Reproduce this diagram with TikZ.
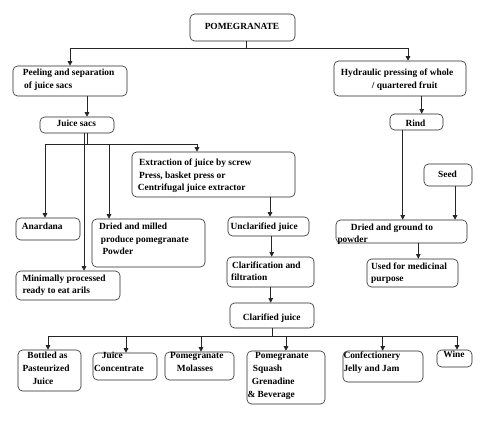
\documentclass[tikz,border=0pt]{standalone}
\usepackage{fontspec}
\setmainfont{Liberation Serif}
\usetikzlibrary{arrows.meta}
\newcommand\fnt{\fontsize{9.4}{12.4}\selectfont\bfseries}
\newcommand\fntb{\fontsize{9.4}{13}\selectfont\bfseries}
\newcommand\mkbox[5]{\node[bx, minimum width={#4pt-#2pt}, minimum height={#5pt-#3pt}] (#1) at ({(#2+#4)/2},{(#3+#5)/2}) {};}
\begin{document}
\begin{tikzpicture}[x=1pt,y=-1pt,
 bx/.style={draw=black!85, line width=0.6pt, rounded corners=4.5pt, inner sep=0pt},
 txt/.style={font=\fnt, inner sep=0pt, align=left, anchor=north west},
 txtb/.style={txt, font=\fntb},
 ln/.style={draw=black!85, line width=0.6pt},
 arr/.style={ln, -{Triangle[length=4.5pt,width=4.5pt]}}]
\useasboundingbox (0,0) rectangle (481,422);
\fill[white] (0,0) rectangle (481,422);
% boxes
\mkbox{pom}{190}{14}{295}{41}
\mkbox{peel}{13}{66}{127}{96}
\mkbox{hyd}{334}{61}{466}{96}
\mkbox{sacs}{40}{117}{114}{133}
\mkbox{rind}{390}{114}{443}{130}
\mkbox{seed}{424}{164}{472}{186}
\mkbox{extr}{132}{152}{295}{197}
\mkbox{anar}{16}{218}{80}{240}
\mkbox{milled}{92}{219}{205}{267}
\mkbox{uncl}{228}{217}{309}{236}
\mkbox{clar}{227}{257}{314}{287}
\mkbox{clard}{230}{303}{314}{328}
\mkbox{ground}{336}{220}{467}{243}
\mkbox{med}{367}{259}{458}{287}
\mkbox{minim}{16}{271}{120}{300}
\mkbox{bottled}{18}{350}{81}{391}
\mkbox{conc}{93}{353}{157}{380}
\mkbox{mol}{165}{352}{234}{380}
\mkbox{squash}{247}{351}{325}{404}
\mkbox{conf}{343}{351}{423}{382}
\mkbox{wine}{437}{350}{472}{367}
% texts
\node[txt, anchor=north] (tpom) at (242,22.7) {POMEGRANATE};
\node[txt] (tpeel) at (22.7,69) {Peeling and separation\\\hspace*{1.3pt}of juice sacs};
\node[txt] (thyd) at (340.7,69) {Hydraulic pressing of whole\\\hspace*{31pt}/ quartered fruit};
\node[txt, anchor=north] (tsacs) at (76.3,120) {Juice sacs};
\node[txt, anchor=north] (trind) at (415.5,120) {Rind};
\node[txt, anchor=north] (tseed) at (447.5,171) {Seed};
\node[txt] (textr) at (137.7,159) {\hspace*{1.3pt}Extraction of juice by screw\\\hspace*{1.3pt}Press, basket press or\\Centrifugal juice extractor};
\node[txt] (tanar) at (21.7,223) {Anardana};
\node[txt] (tmilled) at (99,223) {Dried and milled\\\hspace*{1.7pt}produce pomegranate\\\hspace*{3.3pt}Powder};
\node[txt] (tuncl) at (230.5,222.7) {Unclarified juice};
\node[txt] (tclar) at (231,261.7) {\hspace*{0.8pt}Clarification and\\filtration};
\node[txt, anchor=north] (tclard) at (271.7,313.3) {Clarified juice};
\node[txt] (tground) at (337.3,223.3) {\hspace*{13.4pt}Dried and ground to\\powder};
\node[txt] (tmed) at (371,262.3) {Used for medicinal\\purpose};
\node[txt] (tminim) at (22.3,274.3) {Minimally processed\\ready to eat arils};
\node[txtb] (tbottled) at (22.3,351.7) {\hspace*{5pt}Bottled as\\Pasteurized\\\hspace*{10pt}Juice};
\node[txtb] (tconc) at (94,351.7) {\hspace*{7.7pt}Juice\\Concentrate};
\node[txtb] (tmol) at (170,351.7) {Pomegranate\\\hspace*{6.7pt}Molasses};
\node[txtb] (tsquash) at (247.3,351.7) {\hspace*{7.7pt}Pomegranate\\\hspace*{5.4pt}Squash\\\hspace*{4.4pt}Grenadine\\\& Beverage};
\node[txtb] (tconf) at (343.3,351.7) {Confectionery\\Jelly and Jam};
\node[txt, anchor=north] (twine) at (454,351) {Wine};
% connectors
\coordinate (xa) at (246,48);
\coordinate (b1) at (70,48);
\coordinate (b2) at (408,48);
\draw[ln] (pom.south -| xa) -- (xa);
\draw[ln] (b1) -- (b2);
\draw[arr] (b1) -- (peel.north -| b1);
\draw[arr] (b2) -- (hyd.north -| b2);
\coordinate (x1) at (87,0);
\draw[arr] (peel.south -| x1) -- (sacs.north -| x1);
\coordinate (x2) at (421.7,0);
\draw[arr] (hyd.south -| x2) -- (rind.north -| x2);
\coordinate (x3) at (402.7,0);
\draw[arr] (rind.south -| x3) -- (ground.north -| x3);
\coordinate (x4) at (455,0);
\draw[arr] (seed.south -| x4) -- (ground.north -| x4);
\coordinate (x5) at (418.3,0);
\draw[arr] (ground.south -| x5) -- (med.north -| x5);
\coordinate (x6) at (84,0);
\draw[arr] (sacs.south -| x6) -- (minim.north -| x6);
\coordinate (j2) at (87,144);
\draw[ln] (sacs.south -| j2) -- (j2);
\coordinate (c1) at (45,144);
\coordinate (c2) at (197,144);
\coordinate (c3) at (109,144);
\draw[ln] (c1) -- (c2);
\draw[arr] (c1) -- (anar.north -| c1);
\draw[arr] (c3) -- (milled.north -| c3);
\draw[arr] (c2) -- (extr.north -| c2);
\coordinate (x8) at (270,0);
\draw[arr] (extr.south -| x8) -- (uncl.north -| x8);
\coordinate (x9) at (271.7,0);
\draw[arr] (uncl.south -| x9) -- (clar.north -| x9);
\coordinate (x10) at (270.7,0);
\draw[arr] (clar.south -| x10) -- (clard.north -| x10);
\coordinate (d0) at (272.7,336);
\coordinate (dl) at (48,336);
\coordinate (dr) at (457,336);
\draw[ln] (clard.south -| d0) -- (d0);
\draw[ln] (dl) -- (dr);
\foreach \n/\x in {bottled/48, conc/126, mol/201, squash/286, conf/382.7, wine/457}{
  \coordinate (tmp) at (\x,336);
  \draw[arr] (tmp) -- (\n.north -| tmp);
}
\end{tikzpicture}
\end{document}
